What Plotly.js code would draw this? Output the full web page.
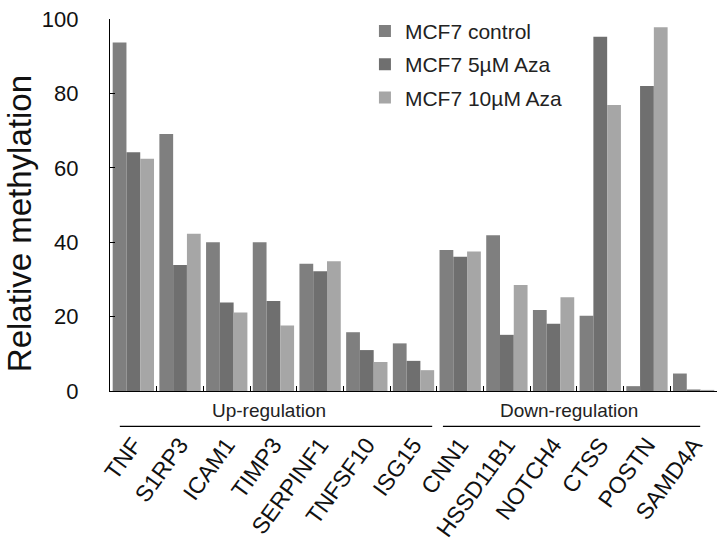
<!DOCTYPE html>
<html>
<head>
<meta charset="utf-8">
<script src="https://cdn.plot.ly/plotly-3.0.1.min.js"></script>
<style>html,body{margin:0;padding:0;background:#fff;}#chart{width:720px;height:550px;}</style>
</head>
<body>
<div id="chart"></div>
<script>
var genes = ["TNF","S1RP3","ICAM1","TIMP3","SERPINF1","TNFSF10","ISG15","CNN1","HSSD11B1","NOTCH4","CTSS","POSTN","SAMD4A"];
var seriesNames = ["MCF7 control","MCF7 5µM Aza","MCF7 10µM Aza"];
var control = [93.7, 69.1, 40.0, 40.0, 34.2, 15.8, 12.8, 37.9, 41.9, 21.8, 20.2, 1.3, 4.7];
var aza5    = [64.2, 33.9, 23.8, 24.2, 32.2, 11.0, 8.1, 36.1, 15.1, 18.1, 95.2, 82.0, 0.4];
var aza10   = [62.4, 42.3, 21.1, 17.6, 34.9, 7.8, 5.6, 37.5, 28.5, 25.2, 76.9, 97.8, 0.3];
var groupLabels = ["Up-regulation","Down-regulation"];
var yTitle = "Relative methylation";
var yTicks = [0,20,40,60,80,100];

var colors = ["#7f7f7f","#6f6f6f","#a6a6a6"];
var font = "Liberation Sans, Arial, sans-serif";
var values = [control, aza5, aza10];
var data = values.map(function(v,i){
  return {type:"bar", x:genes, y:v, name:seriesNames[i], legendgroup:"g"+i,
          marker:{color:colors[i], line:{width:0}}};
});

var layout = {
  width:720, height:550,
  margin:{l:110, r:3, t:19, b:159},
  paper_bgcolor:"#fff", plot_bgcolor:"#fff",
  barmode:"group", bargap:0.115, bargroupgap:0,
  font:{family:font, color:"#111"},
  showlegend:true,
  legend:{x:0.42, y:1.022, xanchor:"left", yanchor:"top", bgcolor:"rgba(0,0,0,0)",
          font:{size:21, family:font, color:"#222"}, tracegroupgap:3, traceorder:"grouped"},
  xaxis:{type:"category", showline:true, linecolor:"#000", linewidth:1.2,
         ticks:"inside", tickson:"boundaries", ticklen:5, tickcolor:"#000",
         tickangle:-54, tickfont:{size:23, family:font, color:"#111"},
         ticklabelstandoff:30, showgrid:false, zeroline:false, fixedrange:true},
  yaxis:{range:[0,100], tickvals:yTicks, showline:true, linecolor:"#000", linewidth:1.2,
         ticks:"inside", ticklen:5, tickcolor:"#000", tickfont:{size:22, family:font, color:"#111"},
         ticklabelstandoff:26, showgrid:false, zeroline:false},
  shapes:[
    {type:"line", xref:"x", yref:"paper", x0:-0.29, x1:6.4, y0:-0.095, y1:-0.095, line:{color:"#000", width:1.2}},
    {type:"line", xref:"x", yref:"paper", x0:6.63, x1:12.14, y0:-0.095, y1:-0.095, line:{color:"#000", width:1.2}}
  ],
  annotations:[
    {text:yTitle, xref:"paper", yref:"paper", x:-0.149, y:0.45, textangle:-90, showarrow:false, xanchor:"center", yanchor:"middle", font:{size:33, family:font, color:"#111"}},
    {text:groupLabels[0], xref:"x", yref:"paper", x:2.9, y:-0.053, showarrow:false, xanchor:"center", yanchor:"middle", font:{size:19, family:font, color:"#222"}},
    {text:groupLabels[1], xref:"x", yref:"paper", x:9.33, y:-0.053, showarrow:false, xanchor:"center", yanchor:"middle", font:{size:19, family:font, color:"#222"}}
  ]
};
Plotly.newPlot("chart", data, layout, {displayModeBar:false, staticPlot:true});
</script>
</body>
</html>
